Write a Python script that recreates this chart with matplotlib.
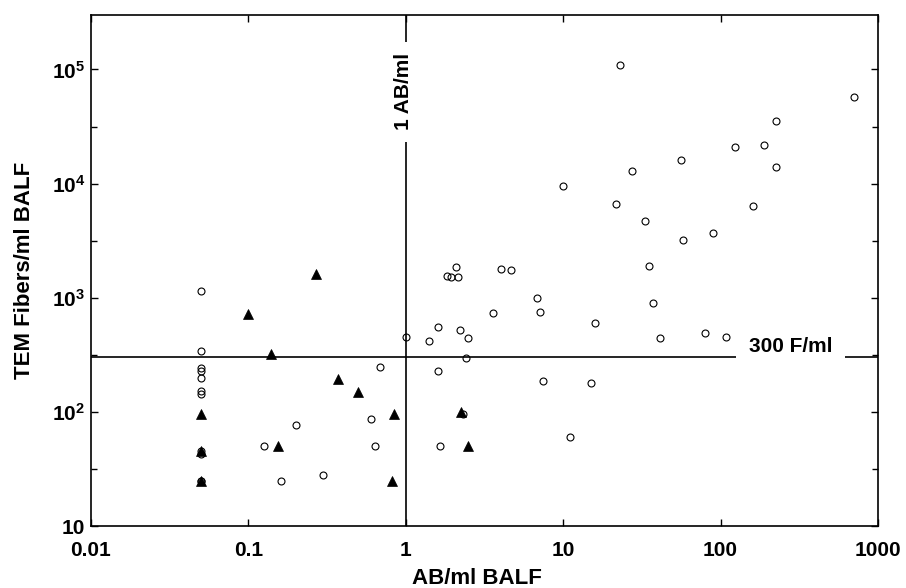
import matplotlib
matplotlib.use("Agg")
import matplotlib.pyplot as plt
import numpy as np
from matplotlib.ticker import FixedLocator, FuncFormatter, NullLocator

plt.rcParams['font.family'] = ['Liberation Sans', 'DejaVu Sans']
plt.rcParams['font.weight'] = 'bold'
plt.rcParams['mathtext.fontset'] = 'custom'
plt.rcParams['mathtext.rm'] = 'Liberation Sans:bold'
plt.rcParams['mathtext.bf'] = 'Liberation Sans:bold'

# asbestos bodies per ml (light microscopy) vs. TEM fibre counts per ml BALF
circle_ab = [0.05, 0.05, 0.05, 0.05, 0.05, 0.05, 0.05, 0.05, 0.05, 0.05, 0.05,
             0.125, 0.2, 0.16, 0.3, 0.6, 0.64, 0.69, 1.0,
             1.65, 11, 7.4, 15, 1.6, 2.4, 1.4, 1.6, 2.2, 2.5, 3.6, 6.8, 7.1,
             2.1, 1.82, 1.93, 2.14, 4.05, 4.65, 2.3,
             21.5, 160, 33, 90, 58, 35, 37, 16, 41, 80, 108,
             23, 56, 27.5, 10, 700, 225, 123, 188, 225]
circle_tem = [1150, 340, 240, 230, 197, 152, 144, 45, 43, 25, 25,
              50, 76, 25, 28, 87, 50, 245, 450,
              50, 60, 185, 178, 230, 295, 415, 550, 520, 440, 730, 1000, 750,
              1850, 1550, 1530, 1530, 1800, 1750, 95,
              6600, 6400, 4700, 3700, 3200, 1900, 900, 600, 440, 490, 450,
              110000, 16000, 12900, 9500, 57000, 35000, 21000, 22000, 14000]

tri_ab = [0.05, 0.05, 0.05, 0.1, 0.14, 0.155, 0.27, 0.37, 0.5, 0.84, 0.82, 2.25, 2.5]
tri_tem = [95, 45, 25, 720, 320, 50, 1600, 195, 150, 95, 25, 100, 50]

ab_cutoff = 1.0
tem_cutoff = 300

fig = plt.figure(figsize=(9.06, 5.88), dpi=100)
ax = fig.add_axes([0.1004, 0.1054, 0.8687, 0.8691])
ax.set_xscale('log')
ax.set_yscale('log')
ax.set_xlim(0.01, 1000)
ax.set_ylim(10, 3e5)

# reference lines, broken where the labels sit
ax.hlines(tem_cutoff, 0.01, 125, color='black', lw=1.2)
ax.hlines(tem_cutoff, 620, 1000, color='black', lw=1.2)
ax.text(280, 372, '300 F/ml', ha='center', va='center', fontsize=15, fontweight='bold')
ax.vlines(ab_cutoff, 10, 23000, color='black', lw=1.2)
ax.vlines(ab_cutoff, 175000, 3e5, color='black', lw=1.2)
ax.text(0.965, 64000, '1 AB/ml', ha='center', va='center', rotation=90,
        fontsize=15, fontweight='bold')

ax.plot(circle_ab, circle_tem, 'o', ms=5, mfc='none', mec='black', mew=0.8)
ax.plot(tri_ab, tri_tem, '^', ms=6.5, mfc='black', mec='black', mew=0.5)

ax.xaxis.set_major_locator(FixedLocator([0.01, 0.1, 1, 10, 100, 1000]))
ax.xaxis.set_minor_locator(NullLocator())
ax.xaxis.set_major_formatter(FuncFormatter(lambda v, p: ('%g' % v)))

ax.yaxis.set_major_locator(FixedLocator([10, 100, 1e3, 1e4, 1e5]))
ax.yaxis.set_minor_locator(FixedLocator([10 ** (k + 0.5) for k in range(1, 6)]))


def ylab(v, p):
    k = int(round(np.log10(v)))
    if k == 1:
        return '10'
    return r'$\mathbf{10^{%d}}$' % k


ax.yaxis.set_major_formatter(FuncFormatter(ylab))

ax.tick_params(which='both', direction='in', top=True, right=True, width=1.0)
ax.tick_params(which='major', length=5, labelsize=15)
ax.tick_params(axis='x', which='major', pad=11)
ax.tick_params(axis='y', which='major', pad=4)
ax.tick_params(which='minor', length=4)
for s in ax.spines.values():
    s.set_linewidth(1.2)

ax.set_xlabel('AB/ml BALF', fontsize=16, fontweight='bold')
ax.set_ylabel('TEM Fibers/ml BALF', fontsize=16, fontweight='bold', labelpad=12)
ax.xaxis.set_label_coords(0.49, -0.082)

fig.savefig('out.png', dpi=100)
